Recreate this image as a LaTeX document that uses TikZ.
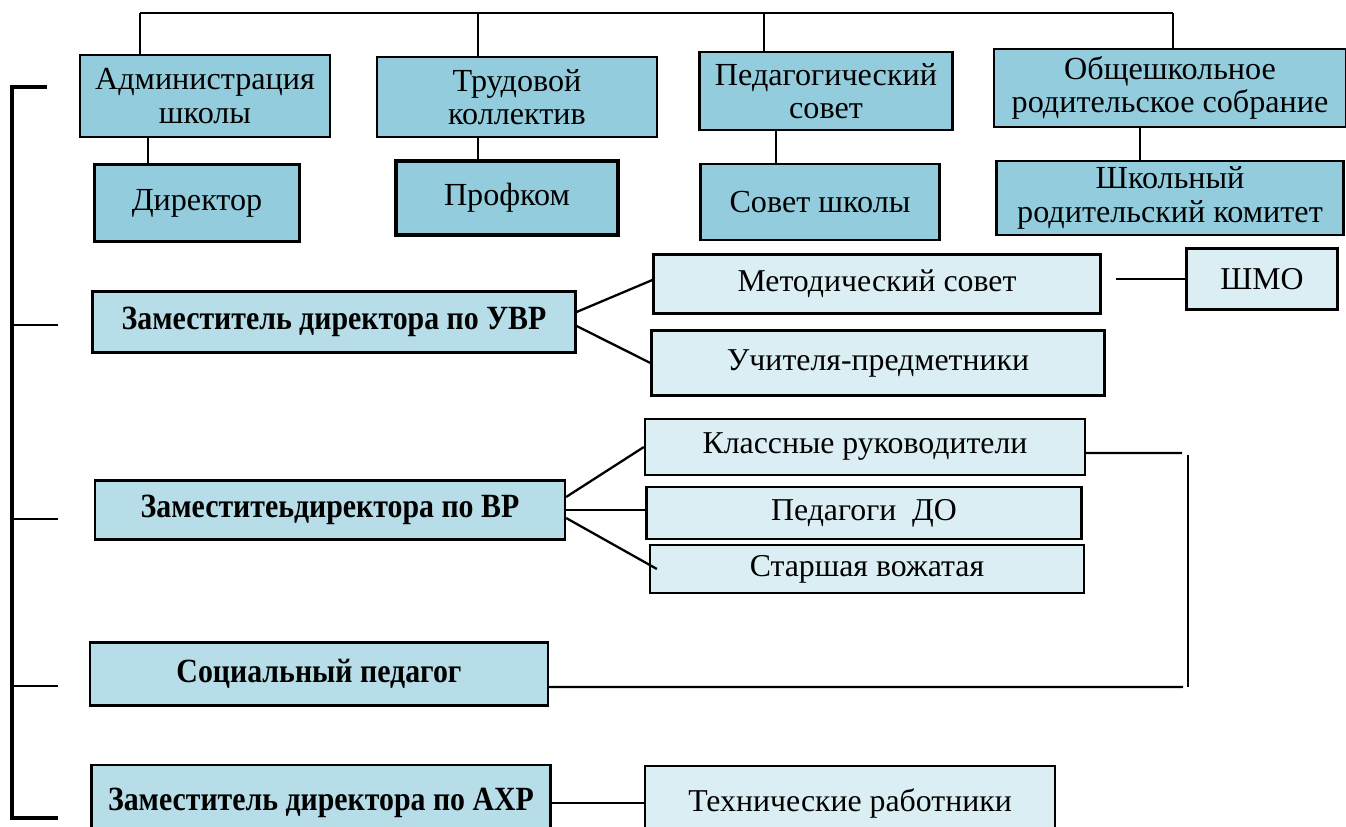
\documentclass[tikz,border=0pt]{standalone}
\usepackage{fontspec}
\setmainfont{Liberation Serif}
\newfontfamily\narrowserif[FakeStretch=0.88]{Liberation Serif}
\usetikzlibrary{calc}

\definecolor{topblue}{RGB}{147,205,221}
\definecolor{midblue}{RGB}{183,222,232}
\definecolor{paleblue}{RGB}{218,238,243}

\tikzstyle{council} = [rectangle, draw=black, line width=1.3pt, fill=topblue, align=center, inner sep=0pt, font=\fontsize{18.3}{19}\selectfont]
\tikzstyle{deputy} = [rectangle, draw=black, line width=1.3pt, fill=midblue, inner sep=0pt, font=\narrowserif\fontsize{19.3}{22}\selectfont\bfseries]
\tikzstyle{staff} = [rectangle, draw=black, line width=1.3pt, fill=paleblue, inner sep=0pt, font=\fontsize{18.1}{20}\selectfont]
\tikzstyle{link} = [line width=1.3pt]
\tikzstyle{thinlink} = [line width=0.7pt]

\begin{document}
\begin{tikzpicture}[x=0.02cm, y=-0.02cm]
    \useasboundingbox (0,0) rectangle (1346,827);

    % top row
    \node (admin) [council, minimum width=5cm, minimum height=1.64cm] at (205,96) {Администрация\\школы};
    \node (labour) [council, minimum width=5.6cm, minimum height=1.6cm] at (517,97) {Трудовой\\коллектив};
    \node (pedsovet) [council, minimum width=5.06cm, minimum height=1.56cm] at (826,91) {Педагогический\\совет};
    \node (parents) [council, minimum width=7.04cm, minimum height=1.56cm] at (1170,88) {Общешкольное\\родительское собрание};

    \node (director) [council, minimum width=4.1cm, minimum height=1.54cm] at (197,203) {Директор};
    \node (union) [council, line width=2pt, minimum width=4.44cm, minimum height=1.48cm] at (507,198) {Профком};
    \node (board) [council, minimum width=4.78cm, minimum height=1.52cm] at (820,202) {Совет школы};
    \node (committee) [council, minimum width=6.94cm, minimum height=1.48cm] at (1170,198) {Школьный\\родительский комитет};

    % deputies
    \node (uvr) [deputy, minimum width=9.66cm, minimum height=1.22cm] at (334,322) {Заместитель директора по УВР};
    \node (vr) [deputy, minimum width=9.4cm, minimum height=1.18cm] at (330,510) {Заместитеьдиректора по ВР};
    \node (social) [deputy, minimum width=9.16cm, minimum height=1.26cm] at (319,674) {Социальный педагог};
    \node (ahr) [deputy, minimum width=9.18cm, minimum height=1.52cm] at (321,803) {Заместитель директора по АХР};

    % staff
    \node (metod) [staff, minimum width=8.94cm, minimum height=1.18cm] at (877,284) {Методический совет};
    \node (shmo) [staff, minimum width=3.02cm, minimum height=1.22cm] at (1262,279) {ШМО};
    \node (teachers) [staff, minimum width=9.06cm, minimum height=1.3cm] at (878,363) {Учителя-предметники};
    \node (classes) [staff, minimum width=8.8cm, minimum height=1.12cm] at (865,447) {Классные руководители};
    \node (pdo) [staff, minimum width=8.7cm, minimum height=1.04cm] at (864,513) {Педагоги\ \ ДО};
    \node (senior) [staff, minimum width=8.68cm, minimum height=0.96cm] at (867,569) {Старшая вожатая};
    \node (tech) [staff, minimum width=8.2cm, minimum height=1.48cm] at (850,803) {Технические работники};

    % bus over the top row
    \coordinate (busL) at (140,13);
    \coordinate (busR) at (1173,13);
    \draw [link] (busL) -- (busR);
    \foreach \n/\x in {admin/140, labour/478, pedsovet/764, parents/1173}
        \draw [link] (\x,13) -- (\x,0 |- \n.north);

    \draw [thinlink] (148,0 |- admin.south) -- (148,0 |- director.north);
    \draw [thinlink] (478,0 |- labour.south) -- (478,0 |- union.north);
    \draw [thinlink] (776,0 |- pedsovet.south) -- (776,0 |- board.north);
    \draw [thinlink] (1140,0 |- parents.south) -- (1140,0 |- committee.north);

    % left bracket
    \coordinate (spine) at (12,87);
    \draw [line width=2pt] (47,87) -- (spine) -- (12,818) -- (58,818);
    \foreach \y in {325, 519, 686}
        \draw [link] (12,\y) -- (58,\y);

    \draw [link] ([yshift=0.2cm]uvr.east) -- ([yshift=0.08cm]metod.west);
    \draw [link] ([yshift=-0.08cm]uvr.east) -- (teachers.west);
    \draw [link] ($(metod.east |- shmo.west)+(14,0)$) -- (shmo.west);

    \draw [link] ([yshift=0.26cm]vr.east) -- (classes.west);
    \draw [link] (vr.east) -- (pdo.west |- vr.east);
    \draw [link] ([yshift=-0.16cm]vr.east) -- ([xshift=0.16cm]senior.west);

    % right bracket
    \draw [link] ([yshift=-0.12cm]classes.east) -- (1182,453);
    \draw [thinlink] (1188,455) -- (1188,687);
    \draw [link] ([yshift=-0.26cm]social.east) -- (1183,687);

    \draw [link] (ahr.east) -- (tech.west);

\end{tikzpicture}
\end{document}
